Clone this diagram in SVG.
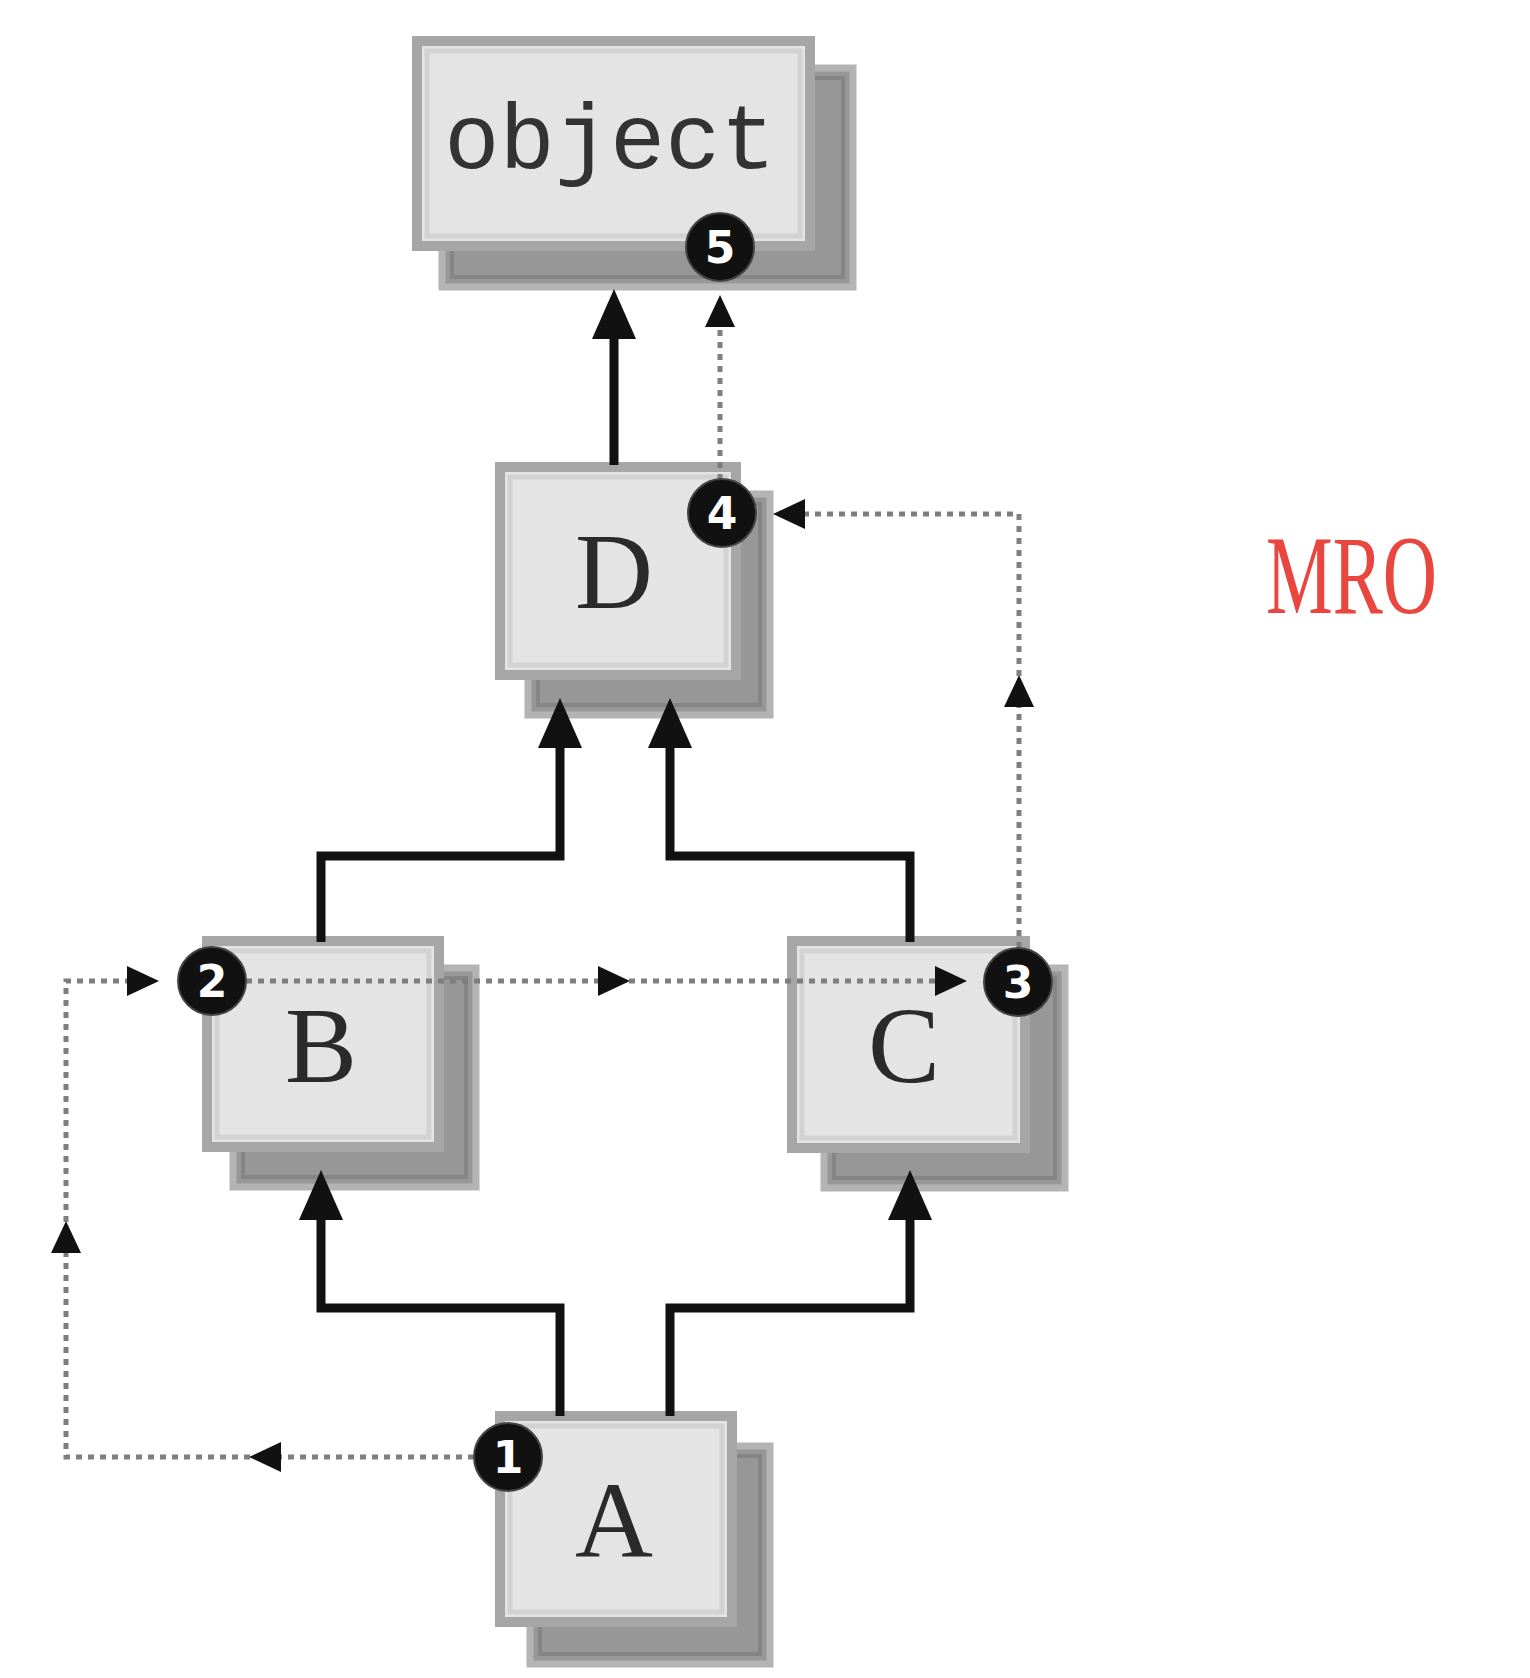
<svg xmlns="http://www.w3.org/2000/svg" width="1530" height="1678" viewBox="0 0 1530 1678">
<style>
.shadow{fill:#979797;stroke:#b4b4b4;stroke-width:7}
.shadow-in{fill:none;stroke:#858585;stroke-width:4}
.front{fill:#e4e4e4;stroke:#a6a6a6;stroke-width:10}
.front-in{fill:none;stroke:#d2d2d2;stroke-width:5}
.lbl{font-family:"Liberation Mono","DejaVu Sans Mono",monospace;fill:#333;text-anchor:middle}
.letter{font-family:"Liberation Serif","DejaVu Serif",serif;fill:#2a2a2a;text-anchor:middle;font-size:108px}
.solid{fill:none;stroke:#111;stroke-width:9;stroke-linecap:butt;stroke-linejoin:miter}
.dot{fill:none;stroke:#7e7e7e;stroke-width:5;stroke-dasharray:6 6}
.badge circle{fill:#111;stroke:#444;stroke-width:2}
.badge text{font-family:"DejaVu Sans","Liberation Sans",sans-serif;font-weight:bold;font-size:44px;fill:#fff;text-anchor:middle}
</style>
<defs>
<marker id="solidArrow" markerUnits="userSpaceOnUse" markerWidth="52" markerHeight="46" refX="2" refY="22" orient="auto">
<path d="M0,0 L50,22 L0,44 z" fill="#111"/>
</marker>
<marker id="dotArrow" markerUnits="userSpaceOnUse" markerWidth="34" markerHeight="32" refX="1" refY="15" orient="auto">
<path d="M0,0 L32,15 L0,30 z" fill="#111"/>
</marker>
</defs>
<rect width="1530" height="1678" fill="#fff"/>

<g id="node-object">
<rect class="shadow" x="442" y="68" width="411" height="219"/>
<rect class="shadow-in" x="452" y="78" width="391" height="199"/>
<rect class="front" x="417" y="41" width="393" height="205"/>
<rect class="front-in" x="427" y="51" width="373" height="185"/>
<text class="lbl" x="610" y="168" font-size="92">object</text>
</g>

<g id="node-D">
<rect class="shadow" x="528" y="494" width="242" height="221"/>
<rect class="shadow-in" x="538" y="504" width="222" height="201"/>
<rect class="front" x="500" y="467" width="236" height="208"/>
<rect class="front-in" x="510" y="477" width="216" height="188"/>
<text class="letter" x="614" y="608">D</text>
</g>

<g id="node-B">
<rect class="shadow" x="233" y="968" width="243" height="219"/>
<rect class="shadow-in" x="243" y="978" width="223" height="199"/>
<rect class="front" x="207" y="941" width="232" height="206"/>
<rect class="front-in" x="217" y="951" width="212" height="186"/>
<text class="letter" x="321" y="1082">B</text>
</g>

<g id="node-C">
<rect class="shadow" x="824" y="968" width="241" height="220"/>
<rect class="shadow-in" x="834" y="978" width="221" height="200"/>
<rect class="front" x="792" y="941" width="233" height="207"/>
<rect class="front-in" x="802" y="951" width="213" height="187"/>
<text class="letter" x="904" y="1082">C</text>
</g>

<g id="node-A">
<rect class="shadow" x="530" y="1446" width="240" height="218"/>
<rect class="shadow-in" x="540" y="1456" width="220" height="198"/>
<rect class="front" x="500" y="1416" width="232" height="206"/>
<rect class="front-in" x="510" y="1426" width="212" height="186"/>
<text class="letter" x="614" y="1557">A</text>
</g>

<g id="connectors">
<path class="solid" d="M614,465 V337" marker-end="url(#solidArrow)"/>
<path class="solid" d="M321,942 V856 H560 V746" marker-end="url(#solidArrow)"/>
<path class="solid" d="M910,942 V856 H670 V746" marker-end="url(#solidArrow)"/>
<path class="solid" d="M560,1416 V1308 H321 V1218" marker-end="url(#solidArrow)"/>
<path class="solid" d="M670,1416 V1308 H910 V1218" marker-end="url(#solidArrow)"/>

<path class="dot" d="M474,1457 H280" marker-end="url(#dotArrow)"/>
<path class="dot" d="M250,1457 H66 V1252" marker-end="url(#dotArrow)"/>
<path class="dot" d="M66,1222 V981 H128" marker-end="url(#dotArrow)"/>
<path class="dot" d="M246,981 H599" marker-end="url(#dotArrow)"/>
<path class="dot" d="M629,981 H936" marker-end="url(#dotArrow)"/>
<path class="dot" d="M1019,948 V706" marker-end="url(#dotArrow)"/>
<path class="dot" d="M1019,676 V514 H804" marker-end="url(#dotArrow)"/>
<path class="dot" d="M720,480 V326" marker-end="url(#dotArrow)"/>
</g>

<g id="badge5" class="badge"><circle cx="720" cy="247" r="34"/><text x="720" y="263">5</text></g>
<g id="badge4" class="badge"><circle cx="722" cy="513" r="34"/><text x="722" y="529">4</text></g>
<g id="badge2" class="badge"><circle cx="212" cy="981" r="34"/><text x="212" y="997">2</text></g>
<g id="badge3" class="badge"><circle cx="1018" cy="982" r="34"/><text x="1018" y="998">3</text></g>
<g id="badge1" class="badge"><circle cx="508" cy="1457" r="34"/><text x="508" y="1473">1</text></g>

<text id="mro" x="1266" y="613" font-family="Liberation Serif, serif" font-size="112" fill="#e8463f" textLength="171" lengthAdjust="spacingAndGlyphs">MRO</text>
</svg>
